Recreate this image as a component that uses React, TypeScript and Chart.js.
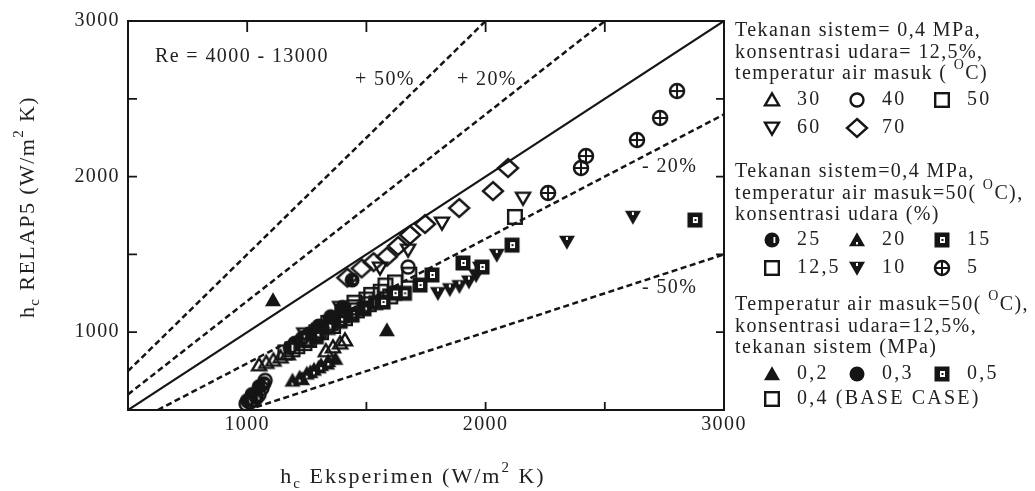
import React, { useEffect, useRef } from 'react';
import { Chart, registerables } from 'chart.js';

Chart.register(...registerables);

const FONT = "'Liberation Serif', 'Times New Roman', serif";
const INK = '#151515';
const TXT = '#222222';

// ---- axes ----
const axisMin = 500;
const axisMax = 3000;
const tickStep = 500;
const labeledTicks = [1000, 2000, 3000];

// ---- reference lines y = factor * x ----
const refFactors = [1.5, 1.2, 1.0, 0.8, 0.5];
const refDashed = [true, true, false, true, true];

// ---- annotation texts (data coordinates) ----
const annoTexts = ['Re = 4000 - 13000', '+ 50%', '+ 20%', '- 20%', '- 50%'];
const annoX = [613, 1452, 1880, 2656, 2656];
const annoY = [2769, 2620, 2620, 2062, 1284];

// ---- group 1: temperatur air masuk (°C) ----
const temp30: [number, number][] = [[1050, 790], [1080, 805], [1110, 820], [1140, 840], [1170, 860], [1330, 880], [1360, 905], [1390, 930], [1410, 950]];
const temp40: [number, number][] = [[995, 540], [1012, 550], [1030, 565], [1050, 600], [1062, 640], [1075, 690], [1675, 1419]];
const temp50: [number, number][] = [[1250, 960], [1300, 1010], [1350, 1060], [1400, 1110], [1450, 1160], [1500, 1210], [1560, 1260], [1620, 1320], [1680, 1370]];
const temp60: [number, number][] = [[1240, 990], [1390, 1160], [1557, 1413], [1675, 1528], [1817, 1702], [2157, 1862]];
const temp70: [number, number][] = [[1420, 1350], [1480, 1410], [1530, 1450], [1586, 1485], [1633, 1554], [1683, 1625], [1746, 1695], [1889, 1798], [2031, 1907], [2094, 2055]];

// ---- group 2: konsentrasi udara (%) ----
const udara25: [number, number][] = [[1000, 560], [1040, 580], [1070, 670], [1180, 900], [1230, 960], [1440, 1335]];
const udara20: [number, number][] = [[1190, 690], [1220, 710], [1250, 735], [1280, 760], [1310, 790], [1340, 815]];
const udara15: [number, number][] = [[1570, 1194], [1620, 1251], [1725, 1303], [1775, 1368], [1905, 1445], [1985, 1419], [2111, 1560]];
const udara125: [number, number][] = [[1160, 870], [1210, 910], [1260, 950], [1310, 1000], [1360, 1040], [1410, 1090], [1460, 1140], [1510, 1180], [1600, 1230], [2123, 1741]];
const udara10: [number, number][] = [[1800, 1250], [1850, 1275], [1890, 1295], [1930, 1325], [1960, 1365], [1976, 1413], [2047, 1496], [2341, 1580], [2618, 1740]];
const udara5: [number, number][] = [[2262, 1895], [2400, 2055], [2421, 2132], [2635, 2235], [2732, 2377], [2803, 2550]];

// ---- group 3: tekanan sistem (MPa) ----
const tekanan02: [number, number][] = [[1108, 1207], [1586, 1014], [1230, 700], [1265, 745], [1300, 775], [1335, 800], [1370, 830]];
const tekanan03: [number, number][] = [[1020, 600], [1050, 650], [1200, 930], [1260, 990], [1300, 1040], [1350, 1100], [1400, 1160]];
const tekanan05: [number, number][] = [[1290, 970], [1340, 1030], [1390, 1070], [1440, 1110], [1490, 1150], [1540, 1190], [1660, 1250], [2878, 1721]];
const tekanan04: [number, number][] = [[1190, 890], [1240, 930], [1290, 1000], [1340, 1060], [1400, 1130], [1450, 1190], [1520, 1240], [1580, 1300]];

type Seg = { t: string; v?: 'sup' | 'sub' };

const seriesList = [
  { key: 'temp30', label: '30', marker: 'triUp', data: temp30 },
  { key: 'temp40', label: '40', marker: 'circle', data: temp40 },
  { key: 'temp50', label: '50', marker: 'square', data: temp50 },
  { key: 'temp60', label: '60', marker: 'triDown', data: temp60 },
  { key: 'temp70', label: '70', marker: 'diamond', data: temp70 },
  { key: 'udara25', label: '25', marker: 'circleHalf', data: udara25 },
  { key: 'udara20', label: '20', marker: 'triUpDot', data: udara20 },
  { key: 'udara15', label: '15', marker: 'squareDot', data: udara15 },
  { key: 'udara125', label: '12,5', marker: 'square', data: udara125 },
  { key: 'udara10', label: '10', marker: 'triDownDot', data: udara10 },
  { key: 'udara5', label: '5', marker: 'circlePlus', data: udara5 },
  { key: 'tekanan02', label: '0,2', marker: 'triUpFill', data: tekanan02 },
  { key: 'tekanan03', label: '0,3', marker: 'circleFill', data: tekanan03 },
  { key: 'tekanan05', label: '0,5', marker: 'squareDot', data: tekanan05 },
  { key: 'tekanan04', label: '0,4 (BASE CASE)', marker: 'square', data: tekanan04 },
];

const legendGroups: { header: Seg[][]; rows: string[][] }[] = [
  {
    header: [
      [{ t: 'Tekanan sistem= 0,4 MPa,' }],
      [{ t: 'konsentrasi udara= 12,5%,' }],
      [{ t: 'temperatur air masuk ( ' }, { t: 'O', v: 'sup' }, { t: 'C)' }],
    ],
    rows: [['temp30', 'temp40', 'temp50'], ['temp60', 'temp70']],
  },
  {
    header: [
      [{ t: 'Tekanan sistem=0,4 MPa,' }],
      [{ t: 'temperatur air masuk=50( ' }, { t: 'O', v: 'sup' }, { t: 'C),' }],
      [{ t: 'konsentrasi udara (%)' }],
    ],
    rows: [['udara25', 'udara20', 'udara15'], ['udara125', 'udara10', 'udara5']],
  },
  {
    header: [
      [{ t: 'Temperatur air masuk=50( ' }, { t: 'O', v: 'sup' }, { t: 'C),' }],
      [{ t: 'konsentrasi udara=12,5%,' }],
      [{ t: 'tekanan sistem (MPa)' }],
    ],
    rows: [['tekanan02', 'tekanan03', 'tekanan05'], ['tekanan04']],
  },
];

const xTitle: Seg[] = [{ t: 'h' }, { t: 'c', v: 'sub' }, { t: ' Eksperimen (W/m' }, { t: '2', v: 'sup' }, { t: ' K)' }];
const yTitle: Seg[] = [{ t: 'h' }, { t: 'c', v: 'sub' }, { t: ' RELAP5 (W/m' }, { t: '2', v: 'sup' }, { t: ' K)' }];

// ---- layout (pixels) ----
const LEG_X = 735;
const LEG_HEAD_Y = [31, 172, 305];
const LEG_LINE = 21.5;
const LEG_ROWS_Y = [[100, 128], [240, 268], [374, 399]];
const LEG_COLS = [772, 857, 942];
const LEG_TXT_DX = 25;

function makeMarker(kind: string): HTMLCanvasElement {
  const S = 26;
  const c = S / 2;
  const cv = document.createElement('canvas');
  cv.width = S;
  cv.height = S;
  const g = cv.getContext('2d') as CanvasRenderingContext2D;
  g.strokeStyle = INK;
  g.fillStyle = INK;
  g.lineWidth = 2.4;
  const triUp = (w: number, h: number) => {
    g.beginPath();
    g.moveTo(c, c - h * 0.55);
    g.lineTo(c + w / 2, c + h * 0.45);
    g.lineTo(c - w / 2, c + h * 0.45);
    g.closePath();
  };
  const triDown = (w: number, h: number) => {
    g.beginPath();
    g.moveTo(c, c + h * 0.55);
    g.lineTo(c + w / 2, c - h * 0.45);
    g.lineTo(c - w / 2, c - h * 0.45);
    g.closePath();
  };
  switch (kind) {
    case 'triUp': triUp(14, 12); g.stroke(); break;
    case 'triDown': triDown(14, 12); g.stroke(); break;
    case 'circle': g.beginPath(); g.arc(c, c, 6.5, 0, Math.PI * 2); g.stroke(); break;
    case 'square': g.strokeRect(c - 6.8, c - 6.8, 13.6, 13.6); break;
    case 'diamond':
      g.beginPath(); g.moveTo(c, c - 9); g.lineTo(c + 10, c); g.lineTo(c, c + 9); g.lineTo(c - 10, c); g.closePath(); g.stroke();
      break;
    case 'circleHalf':
      g.beginPath(); g.arc(c, c, 7.5, 0, Math.PI * 2); g.fill();
      g.fillStyle = '#fff'; g.fillRect(c + 1.5, c - 3, 1.8, 6);
      break;
    case 'triUpDot':
      triUp(16, 14); g.fill();
      g.fillStyle = '#fff'; g.fillRect(c - 1, c + 2, 2, 2.5);
      break;
    case 'triUpFill': triUp(16, 14); g.fill(); break;
    case 'triDownDot':
      triDown(16, 14); g.fill();
      g.fillStyle = '#fff'; g.fillRect(c - 1, c - 5, 2, 3);
      break;
    case 'squareDot':
      g.fillRect(c - 7.5, c - 7.5, 15, 15);
      g.fillStyle = '#fff'; g.fillRect(c - 2, c - 3, 5, 6);
      g.fillStyle = INK; g.fillRect(c - 0.5, c - 1, 2, 2);
      break;
    case 'circleFill': g.beginPath(); g.arc(c, c, 7.5, 0, Math.PI * 2); g.fill(); break;
    case 'circlePlus':
      g.lineWidth = 2.5;
      g.beginPath(); g.arc(c, c, 7, 0, Math.PI * 2); g.stroke();
      g.lineWidth = 2;
      g.beginPath(); g.moveTo(c - 7, c); g.lineTo(c + 7, c); g.moveTo(c, c - 7); g.lineTo(c, c + 7); g.stroke();
      break;
  }
  return cv;
}

function drawRich(ctx: CanvasRenderingContext2D, segs: Seg[], x: number, y: number, size: number, spacing: number, align: 'left' | 'center') {
  const fontOf = (s: Seg) => `${s.v ? Math.round(size * 0.68) : size}px ${FONT}`;
  (ctx as any).letterSpacing = `${spacing}px`;
  ctx.textBaseline = 'middle';
  ctx.textAlign = 'left';
  const widths = segs.map((s) => { ctx.font = fontOf(s); return ctx.measureText(s.t).width; });
  const total = widths.reduce((a, b) => a + b, 0);
  let cx = align === 'center' ? x - total / 2 : x;
  segs.forEach((s, i) => {
    ctx.font = fontOf(s);
    const dy = s.v === 'sup' ? -size * 0.42 : s.v === 'sub' ? size * 0.3 : 0;
    ctx.fillText(s.t, cx, y + dy);
    cx += widths[i];
  });
  (ctx as any).letterSpacing = '0px';
}

export default function App() {
  const ref = useRef<HTMLCanvasElement>(null);
  useEffect(() => {
    const canvas = ref.current;
    if (!canvas) return;
    const markers: Record<string, HTMLCanvasElement> = {};
    seriesList.forEach((s) => { if (!markers[s.marker]) markers[s.marker] = makeMarker(s.marker); });

    const lineSets = refFactors.map((k, i) => {
      const x0 = Math.max(axisMin, axisMin / k);
      const x1 = Math.min(axisMax, axisMax / k);
      return {
        label: `ref${i}`,
        data: [{ x: x0, y: k * x0 }, { x: x1, y: k * x1 }],
        showLine: true,
        borderColor: INK,
        borderWidth: refDashed[i] ? 2.5 : 2.2,
        borderDash: refDashed[i] ? [6, 3.5] : [],
        pointRadius: 0,
        fill: false,
        order: 20,
      };
    });
    const pointSets = seriesList.map((s, i) => ({
      label: s.key,
      data: s.data.map(([x, y]) => ({ x, y })),
      pointStyle: markers[s.marker],
      pointRadius: 8,
      showLine: false,
      order: 1 + i,
    }));

    const framePlugin = {
      id: 'frameTicksTexts',
      beforeDraw(chart: any) {
        (chart.ctx as any).letterSpacing = '1.4px';
      },
      afterDatasetsDraw(chart: any) {
        const ctx: CanvasRenderingContext2D = chart.ctx;
        const { left, right, top, bottom } = chart.chartArea;
        const xs = chart.scales.x;
        const ys = chart.scales.y;
        ctx.save();
        (ctx as any).letterSpacing = '0px';
        ctx.strokeStyle = INK;
        ctx.lineWidth = 2;
        ctx.strokeRect(left, top, right - left, bottom - top);
        ctx.lineWidth = 1.8;
        ctx.beginPath();
        for (let v = axisMin + tickStep; v < axisMax; v += tickStep) {
          const px = xs.getPixelForValue(v);
          ctx.moveTo(px, bottom); ctx.lineTo(px, bottom - 8);
          ctx.moveTo(px, top); ctx.lineTo(px, top + 11);
          const py = ys.getPixelForValue(v);
          ctx.moveTo(left, py); ctx.lineTo(left + 9, py);
          ctx.moveTo(right, py); ctx.lineTo(right - 8, py);
        }
        ctx.stroke();
        ctx.fillStyle = TXT;
        annoTexts.forEach((t, i) => {
          drawRich(ctx, [{ t }], xs.getPixelForValue(annoX[i]), ys.getPixelForValue(annoY[i]), 20, 1.4, 'left');
        });
        ctx.restore();
      },
      afterDraw(chart: any) {
        const ctx: CanvasRenderingContext2D = chart.ctx;
        ctx.save();
        ctx.fillStyle = TXT;
        // axis titles
        drawRich(ctx, xTitle, 413, 477, 22, 2, 'center');
        ctx.save();
        ctx.translate(28, 207);
        ctx.rotate(-Math.PI / 2);
        drawRich(ctx, yTitle, 0, 0, 22, 1.4, 'center');
        ctx.restore();
        // legend
        legendGroups.forEach((g, gi) => {
          g.header.forEach((line, li) => {
            drawRich(ctx, line, LEG_X, LEG_HEAD_Y[gi] + li * LEG_LINE, 20, 1.4, 'left');
          });
          g.rows.forEach((row, ri) => {
            row.forEach((key, ci) => {
              const s = seriesList.find((q) => q.key === key)!;
              const img = markers[s.marker];
              const mx = LEG_COLS[ci];
              const my = LEG_ROWS_Y[gi][ri];
              ctx.drawImage(img, mx - img.width / 2, my - img.height / 2);
              drawRich(ctx, [{ t: s.label }], mx + LEG_TXT_DX, my, 20, 2.2, 'left');
            });
          });
        });
        ctx.restore();
        (ctx as any).letterSpacing = '0px';
      },
    };

    const tickCallback = (v: any) => (labeledTicks.includes(Number(v)) ? String(v) : '');

    const chart = new Chart(canvas, {
      type: 'scatter',
      data: { datasets: [...pointSets, ...lineSets] as any },
      options: {
        responsive: false,
        animation: false,
        events: [],
        layout: { padding: { left: 68, right: 311, top: 21, bottom: 51 } },
        plugins: { legend: { display: false }, tooltip: { enabled: false } },
        scales: {
          x: {
            type: 'linear',
            min: axisMin,
            max: axisMax,
            grid: { display: false, drawTicks: false },
            border: { display: false },
            ticks: {
              stepSize: tickStep,
              autoSkip: false,
              maxRotation: 0,
              padding: 3,
              color: TXT,
              font: { family: FONT, size: 20 },
              callback: tickCallback,
            },
            afterFit: (s: any) => { s.height = 30; },
          },
          y: {
            type: 'linear',
            min: axisMin,
            max: axisMax,
            grid: { display: false, drawTicks: false },
            border: { display: false },
            ticks: {
              stepSize: tickStep,
              autoSkip: false,
              padding: 8,
              color: TXT,
              font: { family: FONT, size: 20 },
              callback: tickCallback,
            },
            afterFit: (s: any) => { s.width = 60; },
          },
        },
      } as any,
      plugins: [framePlugin],
    });
    return () => chart.destroy();
  }, []);

  return (
    <div style={{ position: 'absolute', left: 0, top: 0, width: 1035, height: 491, background: '#fff' }}>
      <canvas ref={ref} width={1035} height={491} style={{ display: 'block' }} />
    </div>
  );
}
